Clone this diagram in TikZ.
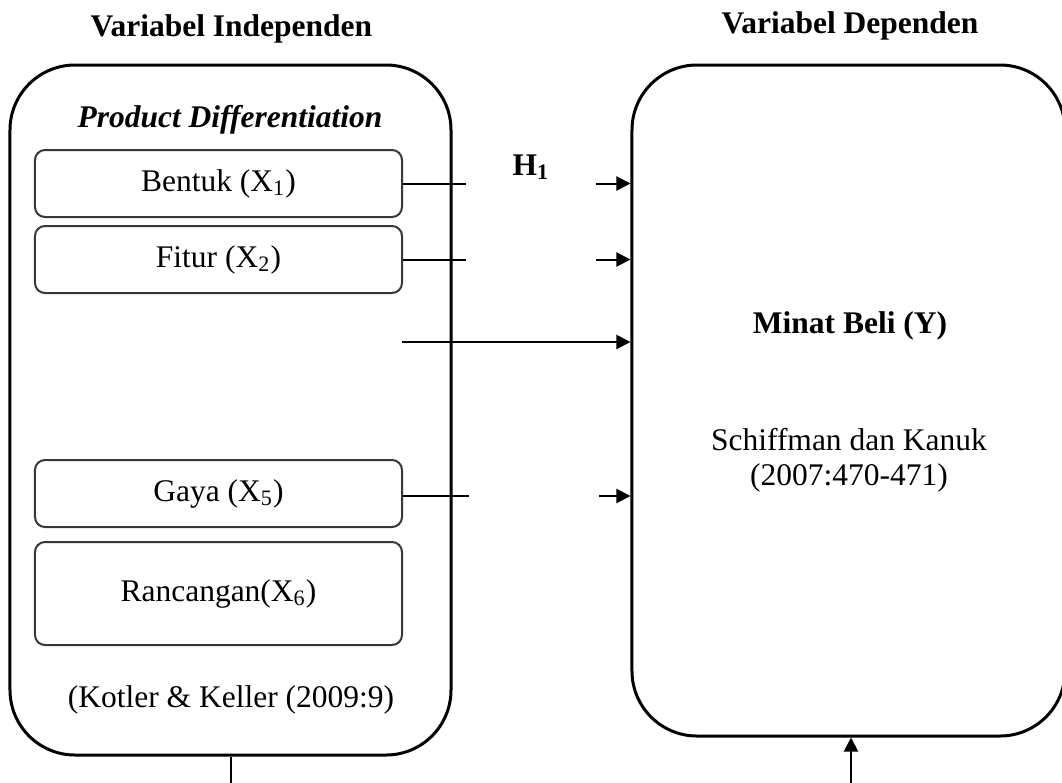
\documentclass[tikz,border=0pt]{standalone}
\usepackage{fontspec}
\setmainfont{Liberation Serif}
\usepackage{tikz}
\usetikzlibrary{arrows.meta, positioning, calc}
\definecolor{boxgray}{RGB}{55, 55, 55}

\begin{document}
\begin{tikzpicture}[x=0.4pt, y=-0.4pt, font=\fontsize{12.6}{15}\selectfont,
        outerbox/.style={draw=black, line width=1.2pt, rounded corners=26pt},
        itembox/.style={draw=boxgray, line width=0.8pt, rounded corners=4pt, minimum width=146.8pt, minimum height=26.8pt, inner sep=0pt},
        conn/.style={line width=0.8pt},
        arr/.style={line width=0.8pt, -{Triangle[length=5.6pt, width=5.6pt]}},
        lbl/.style={anchor=base, inner sep=0pt}]
        \clip (0,0) rectangle (1062,782);

        % --- Kotak variabel independen ---
        \node[outerbox, minimum width=176.4pt, minimum height=276pt] (indep) at (230.5,410) {};
        \node[lbl, font=\fontsize{12.6}{15}\selectfont\bfseries] (tindep) at (231.5,36) {Variabel Independen};
        \node[lbl, font=\fontsize{12.6}{15}\selectfont\bfseries\itshape] (pd) at (230,127) {Product Differentiation};
        \node[itembox] (x1) at (218.5,183.5) {Bentuk (X\textsubscript{1})};
        \node[itembox] (x2) at (218.5,259.5) {Fitur (X\textsubscript{2})};
        \node[itembox] (x5) at (218.5,493.5) {Gaya (X\textsubscript{5})};
        \node[itembox, minimum height=41.2pt] (x6) at (218.5,593.5) {Rancangan(X\textsubscript{6})};
        \node[lbl] (src1) at (231,707) {(Kotler \& Keller (2009:9)};

        % --- Kotak variabel dependen ---
        \node[outerbox, minimum width=173.2pt, minimum height=268.4pt] (dep) at (848.5,400.5) {};
        \node[lbl, font=\fontsize{12.6}{15}\selectfont\bfseries] (tdep) at (850,33) {Variabel Dependen};
        \node[lbl, font=\fontsize{12.6}{15}\selectfont\bfseries] (y) at (850,333) {Minat Beli (Y)};
        \node[lbl] (src2a) at (849,450) {Schiffman dan Kanuk};
        \node[lbl] (src2b) at (849,485) {(2007:470-471)};

        % --- Garis hipotesis ---
        \node[lbl, font=\fontsize{12.6}{15}\selectfont\bfseries] (h1) at (531,175) {H\textsubscript{1}};
        \coordinate (c1a) at (466,183.5);
        \coordinate (c1b) at (596,183.5);
        \coordinate (c2a) at (466,259.5);
        \coordinate (c2b) at (596,259.5);
        \coordinate (cm) at (402,342);
        \coordinate (c5a) at (469,496);
        \coordinate (c5b) at (599,496);
        \draw[conn] (x1.east) -- (c1a);
        \draw[arr] (c1b) -- (dep.west |- c1b);
        \draw[conn] (x2.east) -- (c2a);
        \draw[arr] (c2b) -- (dep.west |- c2b);
        \draw[arr] (cm) -- (dep.west |- cm);
        \draw[conn] (x5.east |- c5a) -- (c5a);
        \draw[arr] (c5b) -- (dep.west |- c5b);

        % --- Garis bawah ---
        \coordinate (bl) at (230.5,790);
        \coordinate (br) at (851,790);
        \draw[conn] (indep.south) -- (bl);
        \draw[arr] (br) -- (br |- dep.south);
    \end{tikzpicture}
\end{document}
